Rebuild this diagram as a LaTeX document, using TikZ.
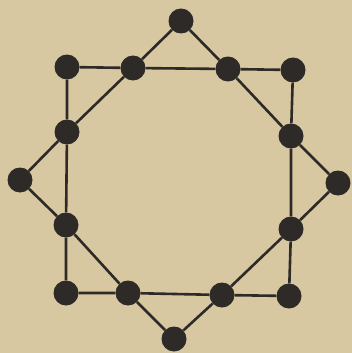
\documentclass[tikz,border=0pt]{standalone}
\definecolor{paper}{RGB}{216,200,162}
\definecolor{ink}{RGB}{45,42,40}
\begin{document}
\begin{tikzpicture}[x=1pt,y=-1pt,
  dot/.style={circle,fill=ink,inner sep=0pt,minimum size=25pt},
  edge/.style={draw=ink,line width=2.6pt}]
\fill[paper] (0,0) rectangle (352,353);
\useasboundingbox (0,0) rectangle (352,353);
% square corners
\node[dot] (TL) at (67,67) {};
\node[dot] (TR) at (293,70) {};
\node[dot] (BR) at (289,296) {};
\node[dot] (BL) at (66,293) {};
% diamond vertices
\node[dot] (N) at (181,21) {};
\node[dot] (E) at (338,183) {};
\node[dot] (S) at (174,339) {};
\node[dot] (W) at (20,180) {};
% intersections
\node[dot] (T1) at (133,68) {};
\node[dot] (T2) at (228,69) {};
\node[dot] (R1) at (291,136) {};
\node[dot] (R2) at (291,229) {};
\node[dot] (B2) at (222,295) {};
\node[dot] (B1) at (128,293) {};
\node[dot] (L2) at (66,225) {};
\node[dot] (L1) at (67,132) {};
\path[edge] (TL) -- (T1) -- (T2) -- (TR) -- (R1) -- (R2) -- (BR) -- (B2) -- (B1) -- (BL) -- (L2) -- (L1) -- (TL);
\path[edge] (N) -- (T1) -- (L1) -- (W) -- (L2) -- (B1) -- (S) -- (B2) -- (R2) -- (E) -- (R1) -- (T2) -- (N);
\end{tikzpicture}
\end{document}
